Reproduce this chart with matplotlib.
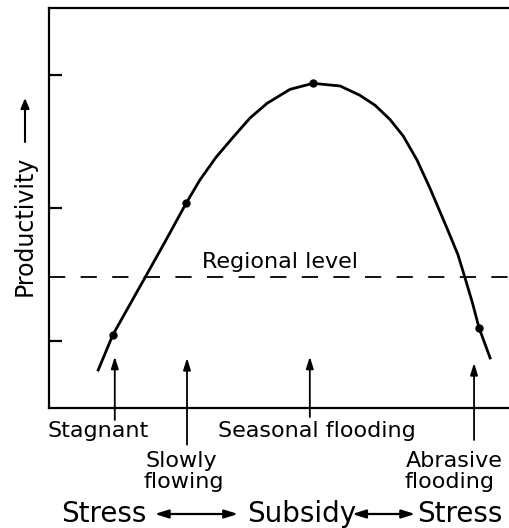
import matplotlib
matplotlib.use('Agg')
import matplotlib.pyplot as plt

# Curve (x: 0-10 across the axis, y: productivity 0-6)
curve_x = [1.07, 1.39, 1.74, 2.09, 2.52, 2.98, 3.28, 3.63, 4.00, 4.37, 4.74, 5.24, 5.74,
           6.33, 6.76, 7.09, 7.41, 7.70, 8.00, 8.28, 8.65, 8.89, 9.04, 9.20, 9.35, 9.59]
curve_y = [0.57, 1.10, 1.53, 1.96, 2.49, 3.07, 3.42, 3.76, 4.06, 4.35, 4.57, 4.78, 4.87,
           4.83, 4.69, 4.54, 4.33, 4.08, 3.72, 3.30, 2.70, 2.30, 1.96, 1.59, 1.20, 0.75]
dot_x = [1.39, 2.98, 5.74, 9.35]
dot_y = [1.10, 3.07, 4.87, 1.20]
regional_level = 1.97
yticks = [1, 3, 5]

# Habitat arrows: x position, arrow tail, arrow tip
arrow_x = [1.43, 3.00, 5.67, 9.24]
arrow_tail = [-0.18, -0.55, -0.135, -0.48]
arrow_tip = [0.77, 0.75, 0.77, 0.675]

fig = plt.figure(figsize=(5.09, 5.28), dpi=100)
ax = fig.add_axes([49 / 509, 1 - 408 / 528, 1 - 49 / 509, 400 / 528])
ax.set_xlim(0, 10)
ax.set_ylim(0, 6)

ax.plot(curve_x, curve_y, color='black', lw=2.0, solid_joinstyle='round')
ax.plot(dot_x, dot_y, 'o', color='black', ms=5)
ax.axhline(regional_level, color='black', lw=1.3, linestyle=(0, (9, 8.5)))
ax.text(5.02, 2.10, 'Regional level', fontsize=16, ha='center', va='baseline')

for sp in ['top', 'left', 'bottom']:
    ax.spines[sp].set_linewidth(1.6)
ax.spines['right'].set_visible(False)
ax.set_xticks([])
ax.set_yticks(yticks)
ax.set_yticklabels([])
ax.tick_params(axis='y', direction='in', length=9, width=1.6)

for x, t0, t1 in zip(arrow_x, arrow_tail, arrow_tip):
    ax.annotate('', xy=(x, t1), xytext=(x, t0), annotation_clip=False,
                arrowprops=dict(arrowstyle='-|>,head_length=0.7,head_width=0.22',
                                color='black', lw=1.3, shrinkA=0, shrinkB=0))

# labels under the axis
ax.text(1.07, -0.435, 'Stagnant', fontsize=16, ha='center', va='baseline', clip_on=False)
ax.text(5.82, -0.435, 'Seasonal flooding', fontsize=16, ha='center', va='baseline', clip_on=False)
ax.text(2.88, -0.885, 'Slowly', fontsize=16, ha='center', va='baseline', clip_on=False)
ax.text(2.93, -1.2, 'flowing', fontsize=16, ha='center', va='baseline', clip_on=False)
ax.text(8.80, -0.885, 'Abrasive', fontsize=16, ha='center', va='baseline', clip_on=False)
ax.text(8.71, -1.2, 'flooding', fontsize=16, ha='center', va='baseline', clip_on=False)

# Stress <-> Subsidy <-> Stress
ax.text(0.26, -1.71, 'Stress', fontsize=20, ha='left', va='baseline', clip_on=False)
ax.text(4.30, -1.71, 'Subsidy', fontsize=20, ha='left', va='baseline', clip_on=False)
ax.text(8.00, -1.71, 'Stress', fontsize=20, ha='left', va='baseline', clip_on=False)
for a, b in [(2.30, 4.11), (6.59, 7.96)]:
    ax.annotate('', xy=(b, -1.59), xytext=(a, -1.59), annotation_clip=False,
                arrowprops=dict(arrowstyle='<|-|>,head_length=0.8,head_width=0.25',
                                color='black', lw=1.6, shrinkA=0, shrinkB=0))

# y label with upward arrow
fig.text(25 / 509, 1 - 226 / 528, 'Productivity', fontsize=17, rotation=90,
         ha='center', va='center')
fig.add_artist(matplotlib.patches.FancyArrowPatch(
    (25 / 509, 1 - 142 / 528), (25 / 509, 1 - 98 / 528), transform=fig.transFigure,
    arrowstyle='-|>,head_length=6,head_width=2.5', color='black', lw=1.5,
    shrinkA=0, shrinkB=0))

fig.savefig('out.png', dpi=100)
